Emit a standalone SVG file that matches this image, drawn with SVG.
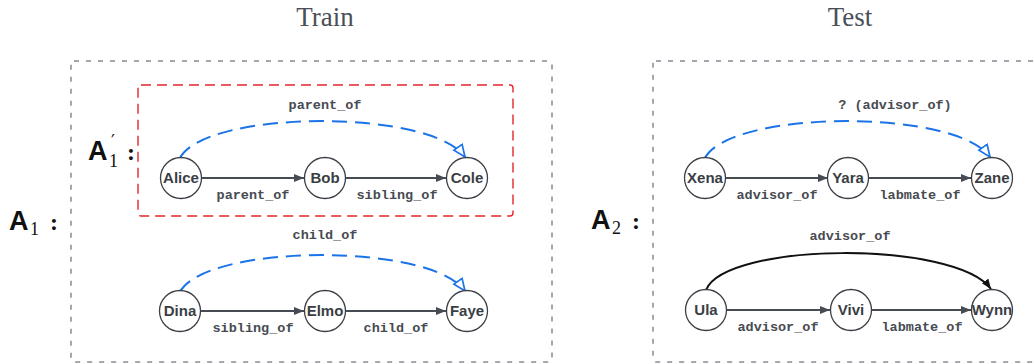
<svg xmlns="http://www.w3.org/2000/svg" width="1034" height="364" viewBox="0 0 1034 364">
<style>
.title{font-family:"Liberation Serif",serif;font-size:27px;fill:#4a4f57;text-anchor:middle}
.frame{fill:none;stroke:#a3a7ae;stroke-width:2;stroke-dasharray:5 7}
.sub{fill:none;stroke:#e3262b;stroke-width:1.4;stroke-dasharray:10 6}
.node circle{fill:#fff;stroke:#3c4046;stroke-width:1.3}
.node text{font-family:"Liberation Sans",Arial,sans-serif;font-weight:bold;font-size:15px;fill:#3a3e44;text-anchor:middle}
.edge{fill:none;stroke:#474c54;stroke-width:2}
.pred{fill:none;stroke:#1a73e8;stroke-width:2;stroke-dasharray:15 8}
.solid{fill:none;stroke:#111;stroke-width:2}
.lbl{font-family:"Liberation Mono",monospace;font-weight:bold;font-size:13.5px;fill:#474b52;text-anchor:middle}
.big{font-family:"Liberation Sans",Arial,sans-serif;font-weight:bold;font-size:27px;fill:#111}
.idx{font-family:"Liberation Serif",serif;font-size:18px;fill:#111}
.col{font-family:"Liberation Serif",serif;font-weight:bold;font-size:24px;fill:#111}
</style>
<defs>
<marker id="ah" markerUnits="userSpaceOnUse" markerWidth="12" markerHeight="10" refX="10" refY="4" orient="auto"><path d="M0,0 L10,4 L0,8 z" fill="#474c54"/></marker>
<marker id="ab" markerUnits="userSpaceOnUse" markerWidth="16" markerHeight="14" refX="13" refY="6" orient="auto"><path d="M1,1 L13,6 L1,11 z" fill="#fff" stroke="#1a73e8" stroke-width="1.7"/></marker>
<marker id="ak" markerUnits="userSpaceOnUse" markerWidth="12" markerHeight="10" refX="10" refY="4" orient="auto"><path d="M0,0 L10,4 L0,8 z" fill="#111"/></marker>
</defs>

<text class="title" x="325" y="26">Train</text>
<text class="title" x="850" y="26">Test</text>

<rect class="frame" x="71" y="61" width="481" height="301" rx="3"/>
<rect class="frame" x="653" y="61" width="420" height="301" rx="3"/>
<rect class="sub" x="138" y="85" width="375" height="131" rx="3"/>

<g id="labels-A">
<text x="9" y="230"><tspan class="big">A</tspan><tspan class="idx" x="30" y="235">1</tspan><tspan class="col" x="50" y="230">:</tspan></text>
<text x="88" y="160"><tspan class="big">A</tspan><tspan class="idx" x="109" y="167">1</tspan></text>
<text x="111" y="147" font-family="'DejaVu Sans',sans-serif" font-size="17" fill="#111">′</text>
<text class="col" x="127" y="160">:</text>
<text x="591" y="229"><tspan class="big">A</tspan><tspan class="idx" x="612" y="234">2</tspan><tspan class="col" x="632" y="229">:</tspan></text>
</g>

<g id="connectors">
<line class="edge" x1="202" y1="178" x2="304" y2="178" marker-end="url(#ah)"/>
<line class="edge" x1="346" y1="178" x2="446" y2="178" marker-end="url(#ah)"/>
<path class="pred" d="M180,158 C205,110 430,108 465,157" marker-end="url(#ab)"/>
<line class="edge" x1="201" y1="311" x2="304" y2="311" marker-end="url(#ah)"/>
<line class="edge" x1="346" y1="311" x2="446" y2="311" marker-end="url(#ah)"/>
<path class="pred" d="M180,292 C205,244 430,242 465,291" marker-end="url(#ab)"/>
<line class="edge" x1="726" y1="178" x2="828" y2="178" marker-end="url(#ah)"/>
<line class="edge" x1="869" y1="178" x2="971" y2="178" marker-end="url(#ah)"/>
<path class="pred" d="M705,158 C730,110 955,108 990,157" marker-end="url(#ab)"/>
<line class="edge" x1="727" y1="310" x2="830" y2="310" marker-end="url(#ah)"/>
<line class="edge" x1="871" y1="310" x2="971" y2="310" marker-end="url(#ah)"/>
<path class="solid" d="M706,290 C725,242 955,240 991,289" marker-end="url(#ak)"/>
<text class="lbl" x="253" y="199">parent_of</text>
<text class="lbl" x="397" y="199">sibling_of</text>
<text class="lbl" x="325" y="109">parent_of</text>
<text class="lbl" x="253" y="332">sibling_of</text>
<text class="lbl" x="396" y="332">child_of</text>
<text class="lbl" x="325" y="239">child_of</text>
<text class="lbl" x="777" y="199">advisor_of</text>
<text class="lbl" x="920" y="199">labmate_of</text>
<text class="lbl" x="895" y="109">? (advisor_of)</text>
<text class="lbl" x="778" y="331">advisor_of</text>
<text class="lbl" x="922" y="331">labmate_of</text>
<text class="lbl" x="850" y="240">advisor_of</text>
</g>

<g id="n-alice" class="node"><circle cx="181" cy="178" r="20.5"/><text x="181" y="183">Alice</text></g>
<g id="n-bob" class="node"><circle cx="325" cy="178" r="20.5"/><text x="325" y="183">Bob</text></g>
<g id="n-cole" class="node"><circle cx="467" cy="178" r="20.5"/><text x="467" y="183">Cole</text></g>
<g id="n-dina" class="node"><circle cx="180" cy="311" r="20.5"/><text x="180" y="316">Dina</text></g>
<g id="n-elmo" class="node"><circle cx="325" cy="311" r="20.5"/><text x="325" y="316">Elmo</text></g>
<g id="n-faye" class="node"><circle cx="467" cy="311" r="20.5"/><text x="467" y="316">Faye</text></g>
<g id="n-xena" class="node"><circle cx="705" cy="178" r="20.5"/><text x="705" y="183">Xena</text></g>
<g id="n-yara" class="node"><circle cx="848" cy="178" r="20.5"/><text x="848" y="183">Yara</text></g>
<g id="n-zane" class="node"><circle cx="992" cy="178" r="20.5"/><text x="992" y="183">Zane</text></g>
<g id="n-ula" class="node"><circle cx="706" cy="310" r="20.5"/><text x="706" y="315">Ula</text></g>
<g id="n-vivi" class="node"><circle cx="851" cy="310" r="20.5"/><text x="851" y="315">Vivi</text></g>
<g id="n-wynn" class="node"><circle cx="992" cy="310" r="20.5"/><text x="992" y="315">Wynn</text></g>
</svg>
